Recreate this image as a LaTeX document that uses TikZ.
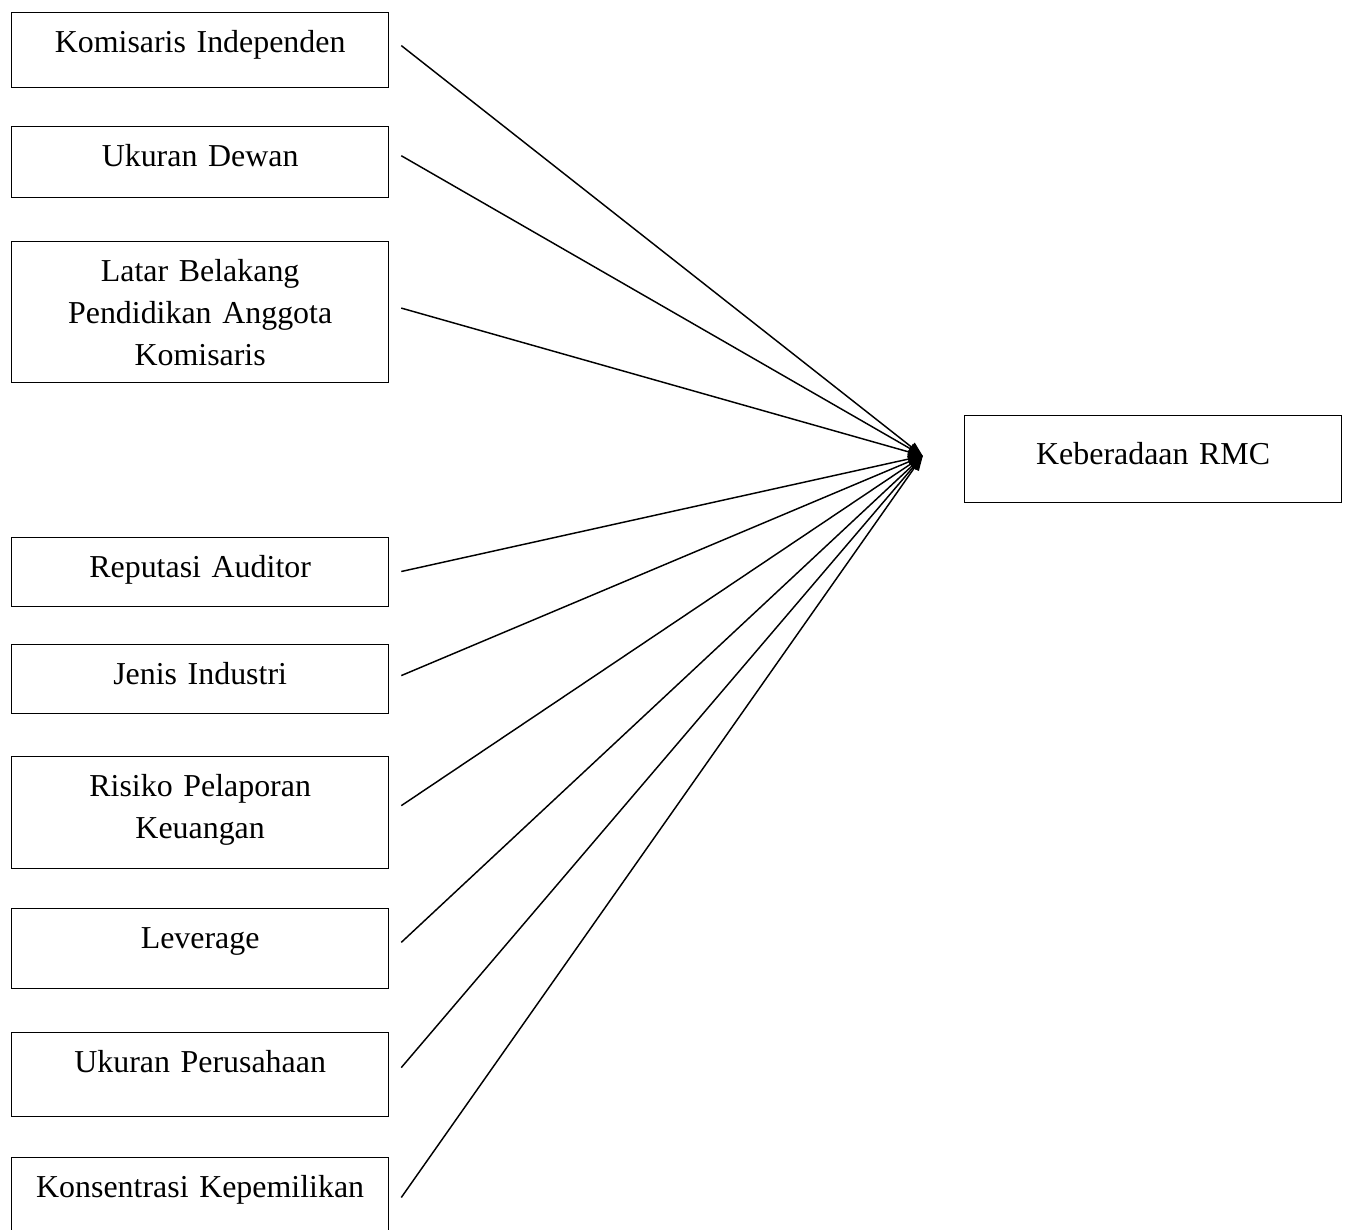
\documentclass[tikz,border=0pt]{standalone}
\usepackage{fontspec}
\setmainfont{Liberation Serif}
\usetikzlibrary{arrows.meta}

\begin{document}
\begin{tikzpicture}[x=0.376pt,y=-0.376pt,
  factor/.style={draw,line width=.45pt,anchor=north west,text width=141.8pt,
    align=center,inner xsep=0pt,inner ysep=0pt,text height=15pt,
    font=\fontsize{12pt}{15.8pt}\selectfont},
  link/.style={line width=.55pt,-{Triangle[length=5.5pt,width=4pt]}}]
            \useasboundingbox (0,0) rectangle (1347,1230);
            \clip (0,0) rectangle (1347,1230);
            \draw (11,12) node[factor,text depth=13.2pt] (ki) {Komisaris Independen};
            \draw (11,126) node[factor,text depth=11.7pt] (ud) {Ukuran Dewan};
            \draw (11,241) node[factor,text depth=38pt] (lb)
            {Latar Belakang\\Pendidikan Anggota\\Komisaris};
            \draw (11,537) node[factor,text depth=10.9pt] (ra) {Reputasi Auditor};
            \draw (11,644) node[factor,text depth=10.9pt] (ji) {Jenis Industri};
            \draw (11,756) node[factor,text depth=27.1pt] (rp)
            {Risiko Pelaporan\\Keuangan};
            \draw (11,908) node[factor,text depth=15pt] (lev) {Leverage};
            \draw (11,1032) node[factor,text depth=16.5pt] (up) {Ukuran Perusahaan};
            \draw (11,1157) node[factor,text depth=15pt] (kk) {Konsentrasi Kepemilikan};
            \draw (964,415) node[factor,text height=18.4pt,text depth=14.3pt] (rmc)
            {Keberadaan RMC};
            \coordinate (tip) at ([xshift=-15.5pt,yshift=1.2pt]rmc.west);
            \draw[link] ([xshift=4.5pt,yshift=1.7pt]ki.east) -- (tip);
            \draw[link] ([xshift=4.5pt,yshift=2.4pt]ud.east) -- (tip);
            \draw[link] ([xshift=4.5pt,yshift=1.5pt]lb.east) -- (tip);
            \draw[link] ([xshift=4.5pt,yshift=0.2pt]ra.east) -- (tip);
            \draw[link] ([xshift=4.5pt,yshift=1.3pt]ji.east) -- (tip);
            \draw[link] ([xshift=4.5pt,yshift=2.6pt]rp.east) -- (tip);
            \draw[link] ([xshift=4.5pt,yshift=2.3pt]lev.east) -- (tip);
            \draw[link] ([xshift=4.5pt,yshift=2.6pt]up.east) -- (tip);
            \draw[link] ([xshift=4.5pt,yshift=0pt]kk.east) -- (tip);
\end{tikzpicture}
\end{document}
